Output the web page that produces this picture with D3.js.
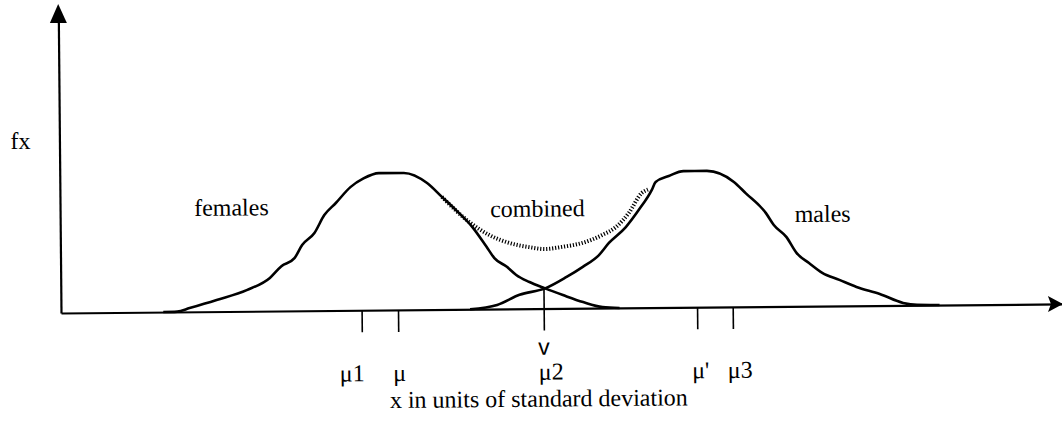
<!DOCTYPE html>
<html>
<head>
<meta charset="utf-8">
<script src="https://cdn.jsdelivr.net/npm/d3@7"></script>
<style>
  body { margin: 0; background: #fff; }
  text { font-family: "Liberation Serif", "Times New Roman", serif; fill: #000; }
</style>
</head>
<body>
<svg id="chart" width="1062" height="428"></svg>
<script>
// x in units of standard deviation, y = density
var femaleX = [-2.95, -2.77, -2.61, -2.26, -1.87, -1.57, -1.42, -1.25, -1.15, -0.99, -0.86, -0.71, -0.52, -0.35, -0.15, 0.17, 0.47, 0.66, 0.84, 1.05, 1.23, 1.33, 1.49, 1.61, 1.78, 1.98, 2.21, 2.47, 2.72, 2.94]
var femaleY = [0, 0.001, 0.011, 0.034, 0.062, 0.097, 0.131, 0.154, 0.192, 0.227, 0.279, 0.314, 0.360, 0.385, 0.400, 0.400, 0.370, 0.329, 0.290, 0.240, 0.182, 0.149, 0.123, 0.099, 0.078, 0.059, 0.039, 0.018, 0.003, 0]

var maleX = [1.01, 1.36, 1.65, 1.98, 2.26, 2.47, 2.68, 2.81, 3.03, 3.20, 3.37, 3.42, 3.59, 3.78, 4.08, 4.43, 4.58, 4.84, 4.94, 5.10, 5.23, 5.39, 5.56, 5.78, 6.00, 6.30, 6.60, 6.78, 7.07]
var maleY = [0, 0.012, 0.041, 0.059, 0.092, 0.121, 0.155, 0.190, 0.236, 0.286, 0.344, 0.367, 0.384, 0.398, 0.398, 0.365, 0.332, 0.273, 0.238, 0.203, 0.156, 0.126, 0.097, 0.076, 0.055, 0.034, 0.007, 0.001, 0]

var combinedX = [0.66, 1.01, 1.27, 1.52, 1.78, 1.98, 2.21, 2.47, 2.72, 2.90, 3.07, 3.24, 3.32]
var combinedY = [0.329, 0.255, 0.216, 0.193, 0.180, 0.174, 0.180, 0.191, 0.213, 0.236, 0.277, 0.335, 0.345]

var tickValues = [-0.39, 0.08, 1.96, 3.94, 4.40]
var tickLabels = ["\u03bc1", "\u03bc", "\u03bc2", "\u03bc'", "\u03bc3"]
var crossing = 0.059   // height where the two curves meet, at v

var curveNames = ["females", "combined", "males"]
var curveNameX = [-2.54, 1.28, 5.21]
var curveNameY = [0.28, 0.269, 0.246]

var svg = d3.select("#chart")

var x = d3.scaleLinear().domain([-4.27, 8.65]).range([0, 1001])
var y = d3.scaleLinear().domain([0, 0.885]).range([0, -303])

// the scan is a little rotated, so the whole plot is too
var g = svg.append("g")
    .attr("transform", "translate(61,313) rotate(-0.52)")

var line = d3.line()
    .x(d => x(d[0]))
    .y(d => y(d[1]))
    .curve(d3.curveMonotoneX)

var zip = (xs, ys) => xs.map((v, i) => [v, ys[i]])

// axes
var xAxis = d3.axisBottom(x)
    .tickValues(tickValues)
    .tickFormat((d, i) => tickLabels[i])
    .tickSizeInner(22)
    .tickSizeOuter(0)

var ax = g.append("g").call(xAxis)
ax.select(".domain").attr("stroke-width", 2.2)
ax.selectAll(".tick line").attr("stroke-width", 1.6)
ax.selectAll(".tick text")
    .attr("font-size", 24)
    .attr("font-family", "Liberation Serif")
    .attr("y", 71)
    .attr("dy", 0)
    .attr("text-anchor", (d, i) => i === 0 ? "end" : "start")
    .attr("dx", (d, i) => i === 0 ? 2 : -6)

// the v tick runs up to the crossing point
ax.selectAll(".tick").filter((d, i) => i === 2)
    .select("line").attr("y1", y(crossing))

ax.append("text")
    .attr("x", x(tickValues[2]))
    .attr("y", 46)
    .attr("text-anchor", "middle")
    .attr("font-size", 23)
    .style("font-family", "Liberation Sans, Arial, sans-serif")
    .text("v")

g.append("text")
    .attr("x", 477)
    .attr("y", 98)
    .attr("text-anchor", "middle")
    .attr("font-size", 24)
    .text("x in units of standard deviation")

var yAxis = d3.axisLeft(y).tickValues([]).tickSizeOuter(0)
var ay = g.append("g").call(yAxis)
ay.select(".domain").attr("stroke-width", 2.2)

// arrow heads
var xEnd = x.range()[1], yEnd = y.range()[1]
g.append("path")
    .attr("d", `M${xEnd + 1},0 L${xEnd - 14},-8 L${xEnd - 11},0 L${xEnd - 14},8 Z`)
    .attr("fill", "#000")
g.append("path")
    .attr("d", `M0,${yEnd - 6} L-8.5,${yEnd + 13} L8.5,${yEnd + 13} Z`)
    .attr("fill", "#000")

g.append("text")
    .attr("x", -49)
    .attr("y", y(0.48))
    .attr("font-size", 24)
    .text("fx")

// curves
g.append("path")
    .datum(zip(combinedX, combinedY))
    .attr("d", line)
    .attr("fill", "none")
    .attr("stroke", "#000")
    .attr("stroke-width", 4)
    .attr("stroke-dasharray", "1.2,1.8")

g.append("path")
    .datum(zip(femaleX, femaleY))
    .attr("d", line)
    .attr("fill", "none")
    .attr("stroke", "#000")
    .attr("stroke-width", 2.6)

g.append("path")
    .datum(zip(maleX, maleY))
    .attr("d", line)
    .attr("fill", "none")
    .attr("stroke", "#000")
    .attr("stroke-width", 2.6)

g.selectAll(".name")
    .data(curveNames).enter()
    .append("text")
    .attr("class", "name")
    .attr("x", (d, i) => x(curveNameX[i]))
    .attr("y", (d, i) => y(curveNameY[i]))
    .attr("font-size", 24)
    .text(d => d)
</script>
</body>
</html>
